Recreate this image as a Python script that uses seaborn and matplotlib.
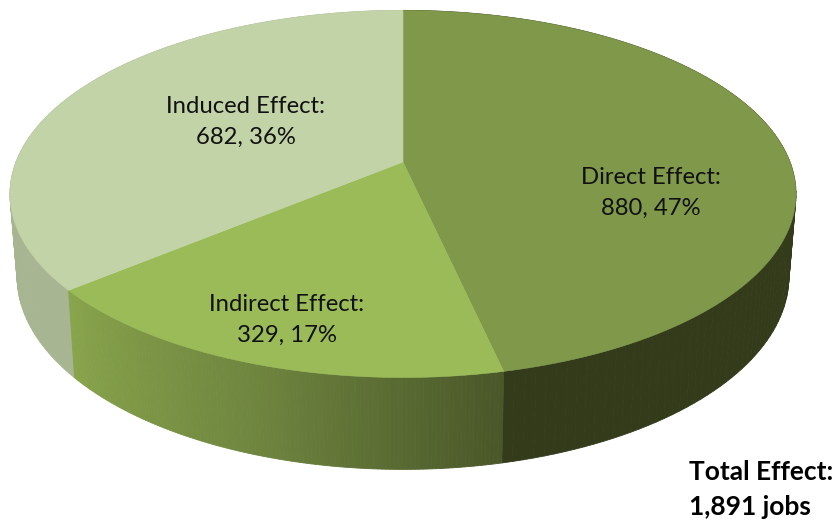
import numpy as np
import seaborn as sns
from matplotlib import pyplot as plt

categories = ['Direct Effect', 'Indirect Effect', 'Induced Effect']
jobs = [880, 329, 682]
shares = ['47%', '17%', '36%']
total_label = ['Total Effect:', '1,891 jobs']

top_colors = ['#7f984a', '#9bbb59', '#c3d3a8']
# wall shades run clockwise, so the indirect wall goes dark at right to light at left
side_colors = [['#39421f', '#333b1b', '#333b1b'], ['#4a5729', '#6f863f', '#88a44b'], ['#a8b592', '#a8b592']]

# camera of the tilted disc, in picture pixels
PERSP = 0.174


def top_face(theta):
    w = 1 + PERSP * np.cos(theta)
    return 403 + 387 * np.sin(theta) / w, 162 - 178 * np.cos(theta) / w


def bottom_face(theta):
    w = 1 + PERSP * np.cos(theta)
    return 403 + 380 * np.sin(theta) / w, 243 - 187 * np.cos(theta) / w


sns.set_theme(style='white')
plt.rcParams['font.family'] = ['Lato', 'DejaVu Sans']

fig = plt.figure(figsize=(8.4, 5.23), dpi=100)
ax = fig.add_axes([0, 0, 1, 1])
ax.set_xlim(0, 840)
ax.set_ylim(523, 0)
ax.axis('off')

edges = np.concatenate([[0], np.cumsum(jobs)]) / sum(jobs) * 2 * np.pi

# side walls first, back to front, then the top faces over them
quads = []
for i in range(len(jobs)):
    thetas = np.linspace(edges[i], edges[i + 1], 121)
    shades = sns.blend_palette(side_colors[i], n_colors=120)
    for j in range(120):
        pair = thetas[j:j + 2]
        x1, y1 = top_face(pair)
        x2, y2 = bottom_face(pair)
        depth = np.cos(pair.mean())
        quads.append((depth, np.r_[x1, x2[::-1]], np.r_[y1, y2[::-1]], shades[j]))

for depth, xs, ys, shade in sorted(quads, key=lambda q: -q[0]):
    ax.fill(xs, ys, color=shade, lw=0.6, zorder=1)

for i in range(len(jobs)):
    thetas = np.linspace(edges[i], edges[i + 1], 200)
    x, y = top_face(thetas)
    ax.fill(np.r_[403, x], np.r_[162, y], color=top_colors[i], lw=0.4, zorder=2)

label_pos = [(651, 193), (287, 320), (246, 122)]
for name, n, share, (lx, ly) in zip(categories, jobs, shares, label_pos):
    ax.text(lx, ly, f'{name}:\n{n}, {share}', ha='center', va='center',
            fontsize=17.2, color='#111111', linespacing=1.6, zorder=3)

ax.text(689, 472, total_label[0], ha='left', va='center', fontsize=19,
        fontweight='bold', color='black')
ax.text(689, 507, total_label[1], ha='left', va='center', fontsize=19,
        fontweight='bold', color='black')

fig.savefig('out.png', dpi=100)
